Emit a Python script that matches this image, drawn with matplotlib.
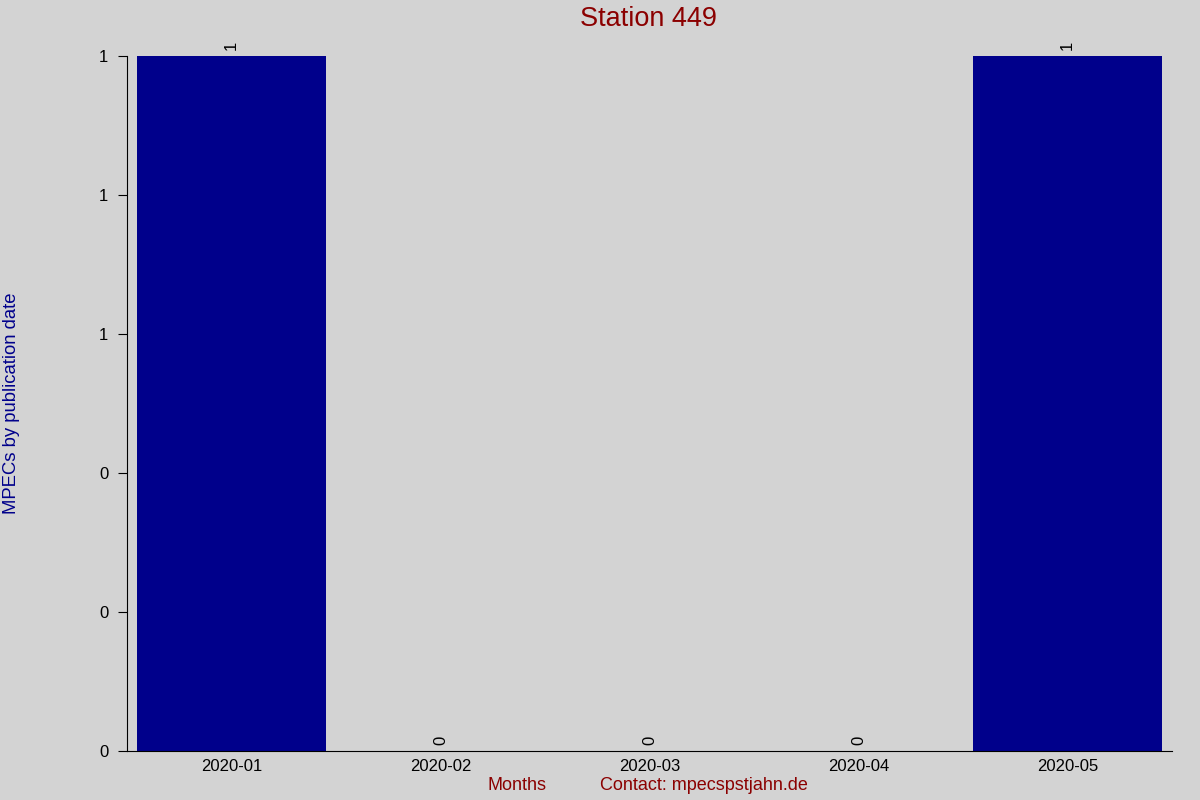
import numpy as np
import matplotlib
matplotlib.use("Agg")
import matplotlib.pyplot as plt

# data
months = ["2020-01", "2020-02", "2020-03", "2020-04", "2020-05"]
counts = [1, 0, 0, 0, 1]
y_ticks = [0.0, 0.2, 0.4, 0.6, 0.8, 1.0]

bg = "#d3d3d3"
bar_color = "#00008b"
red = "#8b0000"

plt.rcParams['font.family'] = ['Liberation Sans', 'DejaVu Sans']

fig = plt.figure(figsize=(12, 8), dpi=100, facecolor=bg)
ax = fig.add_axes([127 / 1200, 49 / 800, 1045 / 1200, 695 / 800])
ax.set_facecolor(bg)

x = np.arange(len(months))
bars = ax.bar(x, counts, width=0.9, color=bar_color)
labels = ax.bar_label(bars, labels=[str(c) for c in counts], rotation=90,
                      padding=4, fontsize=12, color="black")
for t in labels:
    t.set_annotation_clip(False)

ax.set_xlim(-0.5, 4.5)
ax.set_ylim(0, 1)
ax.set_xticks(x)
ax.set_xticklabels(months)
ax.set_yticks(y_ticks)
ax.set_yticklabels(["%.0f" % v for v in y_ticks])

ax.tick_params(axis="x", length=0, pad=5.5, labelsize=12)
ax.tick_params(axis="y", length=6.5, width=0.8, pad=7, labelsize=12)

for side in ["top", "right"]:
    ax.spines[side].set_visible(False)
ax.spines["left"].set_linewidth(0.8)
ax.spines["bottom"].set_linewidth(0.8)

fig.text(648 / 1200, 1 - 19 / 800, "Station 449", color=red, fontsize=19.5,
         ha="center", va="center")
fig.text(12 / 1200, 1 - 403 / 800, "MPECs by publication date", color=bar_color,
         fontsize=13.3, rotation=90, ha="center", va="center")
fig.text(517 / 1200, 1 - 786 / 800, "Months", color=red, fontsize=13,
         ha="center", va="center")
fig.text(704 / 1200, 1 - 786 / 800, "Contact: mpecspstjahn.de", color=red,
         fontsize=13, ha="center", va="center")

fig.savefig("out.png", dpi=100, facecolor=bg)
